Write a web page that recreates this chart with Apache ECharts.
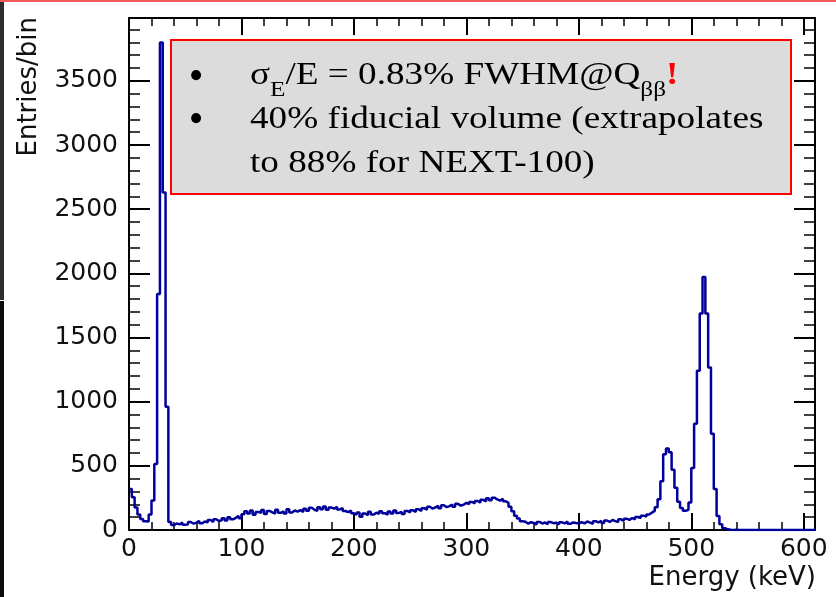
<!DOCTYPE html>
<html>
<head>
<meta charset="utf-8">
<script src="https://cdn.jsdelivr.net/npm/echarts@6/dist/echarts.min.js"></script>
<style>
  html, body { margin: 0; padding: 0; background: #ffffff; }
  #chart { width: 836px; height: 597px; }
</style>
</head>
<body>
<div id="chart"></div>
<script>
// Energy spectrum: entries per 2.5 keV bin, from 0 to 610 keV
const binWidth = 2.5;
const energyMin = 0;
const energyMax = 610;
const countsMax = 3990;

// bins 0-19: 0-50 keV (Xe K-shell lines near 30 keV)
const counts0to50 = [320, 255, 175, 120, 85, 68, 66, 120, 230, 515, 1840, 3800, 2630, 960, 62, 38, 51, 44, 57, 40];
// bins 20-39: 50-100 keV
const counts50to100 = [44, 62, 49, 58, 71, 52, 66, 59, 78, 63, 84, 70, 76, 92, 74, 99, 83, 95, 110, 91];
// bins 40-59: 100-150 keV
const counts100to150 = [122, 147, 128, 151, 119, 141, 133, 156, 125, 149, 138, 127, 158, 134, 146, 129, 161, 137, 152, 143];
// bins 60-79: 150-200 keV
const counts150to200 = [155, 141, 166, 150, 173, 158, 149, 178, 162, 184, 157, 175, 166, 181, 160, 171, 148, 139, 152, 130];
// bins 80-99: 200-250 keV
const counts200to250 = [121, 137, 104, 129, 115, 142, 120, 135, 126, 147, 131, 119, 144, 128, 152, 133, 141, 125, 149, 137];
// bins 100-119: 250-300 keV
const counts250to300 = [153, 141, 162, 149, 170, 158, 181, 166, 176, 189, 170, 193, 178, 186, 199, 182, 204, 190, 197, 211];
// bins 120-139: 300-350 keV (Compton edge)
const counts300to350 = [201, 219, 208, 226, 214, 235, 222, 247, 231, 252, 238, 229, 244, 224, 211, 182, 146, 112, 90, 68];
// bins 140-159: 350-400 keV
const counts350to400 = [64, 49, 61, 55, 42, 63, 51, 58, 46, 62, 53, 57, 44, 60, 52, 66, 48, 59, 54, 50];
// bins 160-179: 400-450 keV
const counts400to450 = [61, 52, 66, 57, 49, 68, 60, 71, 55, 74, 63, 78, 69, 62, 83, 72, 88, 79, 93, 84];
// bins 180-199: 450-500 keV (escape peak)
const counts450to500 = [101, 93, 112, 104, 121, 135, 149, 178, 240, 380, 590, 635, 605, 470, 330, 220, 172, 150, 158, 215];
// bins 200-219: 500-550 keV (511 keV photopeak)
const counts500to550 = [484, 828, 1242, 1688, 1971, 1688, 1266, 750, 320, 110, 45, 14, 5, 2, 0, 1, 0, 0, 0, 0];
// bins 220-243: 550-610 keV
const counts550to610 = [0, 0, 0, 0, 0, 0, 0, 0, 0, 0, 0, 0, 0, 0, 0, 0, 0, 0, 0, 0, 0, 0, 0, 0];

const counts = [].concat(counts0to50, counts50to100, counts100to150, counts150to200,
  counts200to250, counts250to300, counts300to350, counts350to400, counts400to450,
  counts450to500, counts500to550, counts550to610);

const xTickLabels = [0, 100, 200, 300, 400, 500, 600];
const yTickLabels = [0, 500, 1000, 1500, 2000, 2500, 3000, 3500];
const xTitle = 'Energy (keV)';
const yTitle = 'Entries/bin';

const noteLine1 = ['σ', 'E', '/E = 0.83% FWHM@Q', 'ββ', '!'];
const noteLine2 = '40% fiducial volume (extrapolates';
const noteLine3 = 'to 88% for NEXT-100)';

// histogram outline: one point per bin lower edge, closed at the upper range edge
const histData = counts.map((c, i) => [energyMin + i * binWidth, c]);
histData.push([energyMin + counts.length * binWidth, counts[counts.length - 1]]);

const AXIS_FONT = 'DejaVu Sans';
const SERIF = 'Liberation Serif';

function frameAxis(kind, position, interval, tickLen, tickWidth, withLine, withLabels) {
  const isX = kind === 'x';
  const ticks = isX ? xTickLabels : yTickLabels;
  return {
    type: 'value',
    position: position,
    min: isX ? energyMin : 0,
    max: isX ? energyMax : countsMax,
    interval: interval,
    axisLine: { show: withLine, onZero: false, lineStyle: { color: '#000', width: 2 } },
    axisTick: { show: true, inside: true, length: tickLen, lineStyle: { color: '#000', width: tickWidth } },
    splitLine: { show: false },
    axisLabel: withLabels ? {
      show: true,
      fontFamily: AXIS_FONT,
      fontSize: 25,
      color: '#111',
      margin: isX ? 7 : 11,
      formatter: v => (ticks.indexOf(v) >= 0 ? String(v) : '')
    } : { show: false }
  };
}

// text measurement for the subscripted note line
const measureCtx = document.createElement('canvas').getContext('2d');
function textWidth(str, size, weight) {
  measureCtx.font = (weight || 'normal') + ' ' + size + 'px "' + SERIF + '"';
  return measureCtx.measureText(str).width;
}

const mainSize = 31;
const subSize = 21;
const line1Mid = 75.5;
const subMid = 90.5;
const NOTE_Z = 110;

const line1Children = [];
let cursor = 0;
noteLine1.forEach((piece, k) => {
  const isSub = (k === 1 || k === 3);
  const isBang = (k === 4);
  const size = isSub ? subSize : mainSize;
  const weight = isBang ? 'bold' : 'normal';
  line1Children.push({
    type: 'text',
    x: cursor,
    y: isSub ? subMid : line1Mid,
    z: NOTE_Z,
    style: {
      text: piece,
      fontFamily: SERIF,
      fontSize: size,
      fontWeight: weight,
      fill: isBang ? '#ff0000' : '#000',
      align: 'left', textAlign: 'left',
      verticalAlign: 'middle', textVerticalAlign: 'middle'
    }
  });
  cursor += textWidth(piece, size, weight);
});

const plainText = (str, y) => ({
  type: 'text', x: 0, y: y, z: NOTE_Z,
  style: {
    text: str, fontFamily: SERIF, fontSize: mainSize, fill: '#000',
    align: 'left', textAlign: 'left', verticalAlign: 'middle', textVerticalAlign: 'middle'
  }
});

const bullet = y => ({
  type: 'text', x: 196, y: y, z: NOTE_Z,
  style: {
    text: '•', fontFamily: SERIF, fontSize: 42, fill: '#000',
    align: 'center', textAlign: 'center', verticalAlign: 'middle', textVerticalAlign: 'middle'
  }
});

const chart = echarts.init(document.getElementById('chart'), null, { renderer: 'canvas' });

chart.setOption({
  animation: false,
  backgroundColor: '#ffffff',
  grid: { left: 129, right: 21, top: 18, bottom: 67, containLabel: false },
  xAxis: [
    frameAxis('x', 'bottom', 100, 17, 2, true, true),
    frameAxis('x', 'bottom', 20, 8, 1.5, false, false),
    frameAxis('x', 'top', 100, 17, 2, true, false),
    frameAxis('x', 'top', 20, 8, 1.5, false, false)
  ],
  yAxis: [
    frameAxis('y', 'left', 500, 21, 2, true, true),
    frameAxis('y', 'left', 100, 11, 1.5, false, false),
    frameAxis('y', 'right', 500, 21, 2, true, false),
    frameAxis('y', 'right', 100, 11, 1.5, false, false)
  ],
  series: [{
    type: 'line',
    xAxisIndex: 0,
    yAxisIndex: 0,
    step: 'end',
    data: histData,
    showSymbol: false,
    symbol: 'none',
    lineStyle: { color: '#00009a', width: 2.5 },
    z: 5
  }],
  graphic: [
    // slide edge details
    { type: 'rect', shape: { x: 0, y: 0, width: 4, height: 300 }, style: { fill: '#2e2e2e' }, z: 0 },
    { type: 'rect', shape: { x: 0, y: 301, width: 4, height: 296 }, style: { fill: '#0c0c0c' }, z: 0 },
    { type: 'rect', shape: { x: 0, y: 0, width: 836, height: 2 }, style: { fill: '#f25a5a' }, z: 0 },
    // axis titles
    {
      type: 'text', x: 29, y: 17, rotation: Math.PI / 2,
      style: {
        text: yTitle, fontFamily: AXIS_FONT, fontSize: 26, fill: '#111',
        align: 'right', textAlign: 'right', verticalAlign: 'middle', textVerticalAlign: 'middle'
      }
    },
    {
      type: 'text', x: 816, y: 578,
      style: {
        text: xTitle, fontFamily: AXIS_FONT, fontSize: 26, fill: '#111',
        align: 'right', textAlign: 'right', verticalAlign: 'middle', textVerticalAlign: 'middle'
      }
    },
    // note box
    {
      type: 'rect', z: 100,
      shape: { x: 171, y: 40, width: 620, height: 154 },
      style: { fill: '#dcdcdc', stroke: '#ff0000', lineWidth: 2 }
    },
    bullet(78),
    bullet(121),
    {
      type: 'group', x: 250, y: 0, scaleX: 1.2, scaleY: 1, z: NOTE_Z,
      children: line1Children.concat([
        plainText(noteLine2, 119.5),
        plainText(noteLine3, 163.5)
      ])
    }
  ]
});
</script>
</body>
</html>
